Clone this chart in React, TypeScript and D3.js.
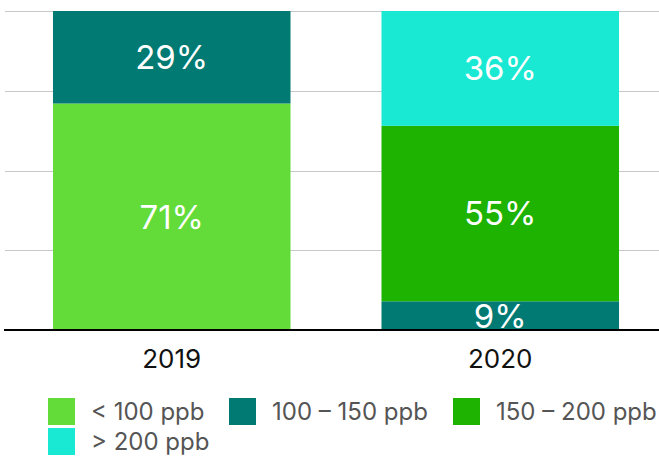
import React, { useEffect, useRef } from "react";
import * as d3 from "d3";

// chart values
const years = ["2019", "2020"];
const bands = ["< 100 ppb", "100 – 150 ppb", "150 – 200 ppb", "> 200 ppb"];
const colors = ["#63db38", "#007a72", "#1db300", "#19e8d3"];
const share2019 = [71, 29, 0, 0];
const share2020 = [0, 9, 55, 36];
const yTicks = [0, 25, 50, 75, 100];

const W = 659,
  H = 459;

export default function App() {
  const ref = useRef<SVGSVGElement>(null);

  useEffect(() => {
    const svg = d3.select(ref.current);
    svg.selectAll("*").remove();

    const font = "Inter, 'Noto Sans', sans-serif";
    const rows = years.map((yr, i) => {
      const vals = i === 0 ? share2019 : share2020;
      const o: any = { year: yr };
      bands.forEach((b, j) => (o[b] = vals[j]));
      return o;
    });

    const x = d3
      .scaleBand()
      .domain(years)
      .range([6, 666])
      .paddingInner(0.277)
      .paddingOuter(0.143);
    const y = d3.scaleLinear().domain([0, 100]).range([330, 11]);

    // grid
    svg
      .append("g")
      .selectAll("line")
      .data(yTicks.slice(1))
      .enter()
      .append("line")
      .attr("x1", 5)
      .attr("x2", W)
      .attr("y1", (d) => Math.round(y(d)) + 0.5)
      .attr("y2", (d) => Math.round(y(d)) + 0.5)
      .attr("stroke", "#c8c8c8")
      .attr("stroke-width", 1);

    const stack = d3.stack().keys(bands)(rows);

    const layer = svg
      .append("g")
      .selectAll("g")
      .data(stack)
      .enter()
      .append("g")
      .attr("fill", (d, i) => colors[i]);

    layer
      .selectAll("rect")
      .data((d) => d.filter((s) => s[1] - s[0] > 0))
      .enter()
      .append("rect")
      .attr("x", (d: any) => x(d.data.year)!)
      .attr("width", x.bandwidth())
      .attr("y", (d) => y(d[1]))
      .attr("height", (d) => y(d[0]) - y(d[1]));

    layer
      .selectAll("text")
      .data((d) => d.filter((s) => s[1] - s[0] > 0))
      .enter()
      .append("text")
      .attr("x", (d: any) => x(d.data.year)! + x.bandwidth() / 2)
      .attr("y", (d) => (y(d[0]) + y(d[1])) / 2)
      .attr("dy", "0.36em")
      .attr("text-anchor", "middle")
      .attr("fill", "#fff")
      .style("font-family", font)
      .style("font-size", "33px")
      .text((d) => d[1] - d[0] + "%");

    // baseline
    svg
      .append("line")
      .attr("x1", 4)
      .attr("x2", W)
      .attr("y1", y(0))
      .attr("y2", y(0))
      .attr("stroke", "#000")
      .attr("stroke-width", 2);

    // x axis labels
    svg
      .append("g")
      .selectAll("text")
      .data(years)
      .enter()
      .append("text")
      .attr("x", (d) => x(d)! + x.bandwidth() / 2)
      .attr("y", 368)
      .attr("text-anchor", "middle")
      .attr("fill", "#111")
      .style("font-family", font)
      .style("font-size", "26px")
      .text((d) => d);

    // legend
    const legendPos = [
      [48, 398],
      [229, 398],
      [453, 398],
      [48, 428],
    ];
    const lg = svg
      .append("g")
      .selectAll("g")
      .data(bands)
      .enter()
      .append("g")
      .attr("transform", (d, i) => "translate(" + legendPos[i][0] + "," + legendPos[i][1] + ")");
    lg.append("rect")
      .attr("width", 27)
      .attr("height", 27)
      .attr("fill", (d, i) => colors[i]);
    lg.append("text")
      .attr("x", 43)
      .attr("y", 13.5)
      .attr("dy", "0.36em")
      .attr("fill", "#555")
      .style("font-family", font)
      .style("font-size", "24px")
      .text((d) => d);
  }, []);

  return (
    <svg
      ref={ref}
      width={W}
      height={H}
      style={{ position: "absolute", left: 0, top: 0, background: "#fff" }}
    />
  );
}
